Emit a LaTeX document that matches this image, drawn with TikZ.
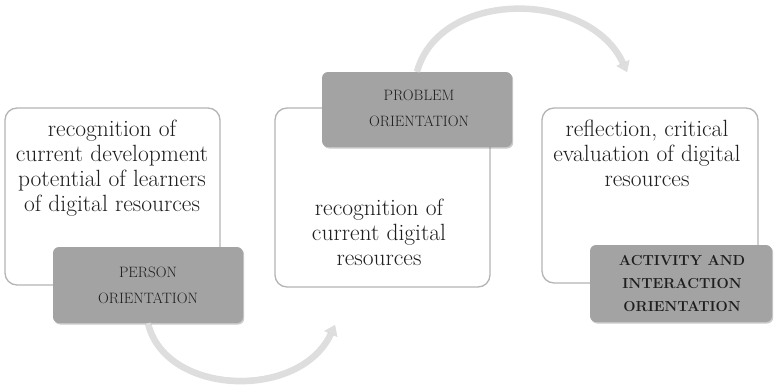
\documentclass[tikz,border=0pt]{standalone}
\usepackage{fontspec}
\usetikzlibrary{arrows.meta,shadows}
\definecolor{boxline}{HTML}{B4B4B4}
\definecolor{grayfill}{HTML}{A3A3A3}
\definecolor{arrowc}{HTML}{DEDEDE}
\definecolor{arrowedge}{HTML}{C8C8C8}
\definecolor{txt}{HTML}{1E1E1E}
\tikzset{
  whitebox/.style={draw=boxline, line width=1.3pt, fill=white, rounded corners=12pt, inner sep=0pt},
  graybox/.style={fill=grayfill, rounded corners=6pt, inner sep=0pt,
    drop shadow={shadow xshift=1.2pt, shadow yshift=-1.5pt, opacity=0.35, fill=black!60}},
  bodytext/.style={text=txt, align=center, font=\fontsize{23.5}{25}\selectfont},
  labeltext/.style={text=txt, align=center, font=\fontsize{15}{26}\selectfont},
  labeltextb/.style={text=txt, align=center, font=\fontsize{14.5}{23}\selectfont\bfseries\addfontfeature{LetterSpace=12}},
  bigarrow/.style={arrowc, line width=4.5pt, -{Triangle[length=9pt,width=12pt]}},
  arrowshade/.style={arrowedge, line width=6.5pt, opacity=0.6, -{Triangle[length=10pt,width=14pt]}}
}
\begin{document}
\begin{tikzpicture}[x=1pt,y=-1pt]
\useasboundingbox (0,0) rectangle (774,386);
% white boxes
\node[whitebox, minimum width=215pt, minimum height=177pt] (w1) at (112.5,196.5) {};
\node[whitebox, minimum width=215pt, minimum height=179pt] (w2) at (382.5,197.5) {};
\node[whitebox, minimum width=216pt, minimum height=175pt] (w3) at (650,195.5) {};
% texts of white boxes
\node[bodytext] (t1) at (112,168) {recognition of\\current development\\potential of learners\\of digital resources};
\node[bodytext] (t2) at (379,232) {recognition of\\current digital\\resources};
\node[bodytext] (t3) at (647,153) {reflection, critical\\evaluation of digital\\resources};
% gray label boxes
\node[graybox, minimum width=190pt, minimum height=76pt] (g1) at (148,285) {};
\node[graybox, minimum width=190pt, minimum height=75pt] (g2) at (417,109.5) {};
\node[graybox, minimum width=182pt, minimum height=77pt] (g3) at (681,283.5) {};
\node[labeltext] (l1) at (148,285) {PERSON\\ORIENTATION};
\node[labeltext] (l2) at (419,108) {PROBLEM\\ORIENTATION};
\node[labeltextb] (l3) at (682,284) {ACTIVITY AND\\INTERACTION\\ORIENTATION};
% curved arrows
\coordinate (e1) at (335,325);
\coordinate (e2) at (627,72);
\draw[arrowshade] (g1.south) .. controls (165,396) and (300,401) .. (e1);
\draw[bigarrow] (g1.south) .. controls (165,395) and (300,400) .. (e1);
\draw[arrowshade] (g2.north) .. controls (440,-12) and (590,-10) .. (e2);
\draw[bigarrow] (g2.north) .. controls (440,-12) and (590,-10) .. (e2);
\end{tikzpicture}
\end{document}
